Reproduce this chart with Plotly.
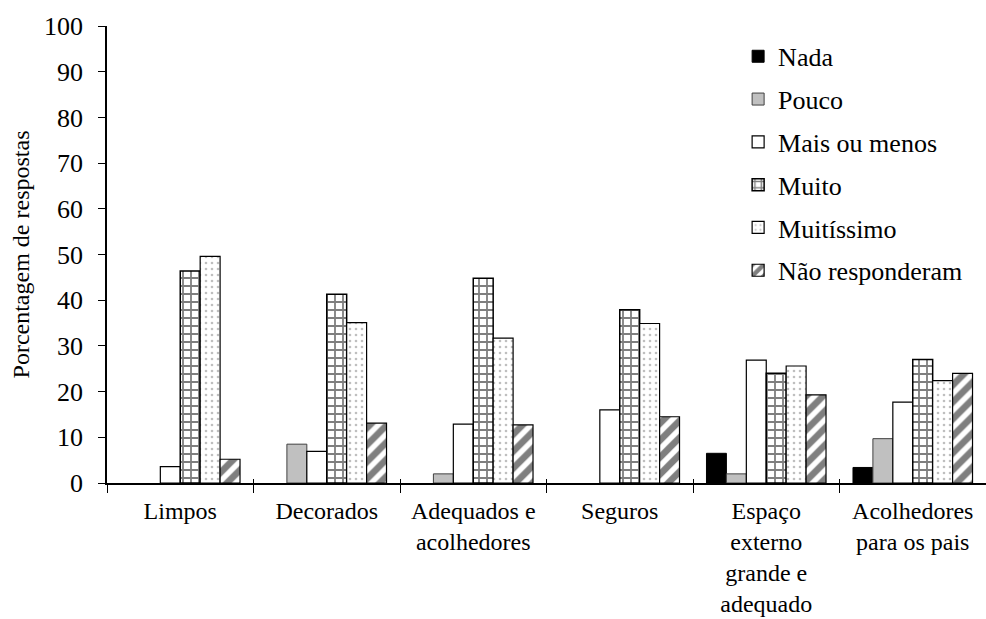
import plotly.graph_objects as go

# Categories (multi-line labels use <br>)
categories = [
    "Limpos",
    "Decorados",
    "Adequados e<br>acolhedores",
    "Seguros",
    "Espaço<br>externo<br>grande e<br>adequado",
    "Acolhedores<br>para os pais",
]

# Percentage of answers per response level
nada = [0, 0, 0, 0, 6.5, 3.4]
pouco = [0, 8.5, 2.0, 0, 2.0, 9.7]
mais_ou_menos = [3.6, 6.9, 12.9, 16.0, 26.9, 17.7]
muito = [46.4, 41.3, 44.8, 37.9, 24.0, 27.0]
muitissimo = [49.6, 35.1, 31.7, 34.9, 25.6, 22.4]
nao_responderam = [5.2, 13.1, 12.7, 14.5, 19.3, 24.0]

y_ticks = [0, 10, 20, 30, 40, 50, 60, 70, 80, 90, 100]

FONT = "Liberation Serif"

series = [
    ("Nada", nada, dict(color="black", line=dict(color="black", width=1))),
    ("Pouco", pouco, dict(color="#c0c0c0", line=dict(color="#404040", width=1))),
    ("Mais ou menos", mais_ou_menos, dict(color="white", line=dict(color="black", width=1.2))),
    ("Muito", muito, dict(color="white", line=dict(color="black", width=1.5),
                          pattern=dict(shape="+", fgcolor="black", bgcolor="white",
                                       size=8, solidity=0.4))),
    ("Muitíssimo", muitissimo, dict(color="white", line=dict(color="black", width=1.2),
                                    pattern=dict(shape=".", fgcolor="#808080", bgcolor="white",
                                                 size=6, solidity=0.15))),
    ("Não responderam", nao_responderam,
     dict(color="white", line=dict(color="black", width=1.2),
          pattern=dict(shape="/", fgcolor="black", bgcolor="white",
                       size=12, solidity=0.55))),
]

fig = go.Figure()
for i, (name, vals, marker) in enumerate(series):
    # empty answers are left out so nothing is drawn on the baseline
    fig.add_trace(go.Bar(x=categories, y=[v if v else None for v in vals],
                         name=name, marker=marker, legendgroup=f"g{i}"))

# Invisible helper trace so the overlaid axis (inside ticks) gets drawn
fig.add_trace(go.Scatter(x=categories, y=[None] * len(categories), xaxis="x2",
                         showlegend=False, hoverinfo="skip", mode="markers"))

fig.update_layout(
    width=986, height=619,
    margin=dict(l=107, r=0, t=26, b=136),
    paper_bgcolor="white", plot_bgcolor="white",
    barmode="group", bargap=0.184, bargroupgap=0,
    showlegend=True,
    legend=dict(x=0.718, y=0.985, xanchor="left", yanchor="top",
                font=dict(family=FONT, size=26, color="black"),
                bgcolor="rgba(0,0,0,0)", tracegroupgap=6, itemwidth=30),
    xaxis=dict(
        categoryorder="array", categoryarray=categories,
        range=[-0.5, 5.5],
        showline=True, linecolor="black", linewidth=1.5,
        ticks="outside", ticklen=8, tickwidth=1, tickcolor="black",
        tickson="boundaries", showgrid=False, zeroline=False,
        ticklabelstandoff=5,
        tickfont=dict(family=FONT, size=24, color="black"),
    ),
    xaxis2=dict(
        overlaying="x", matches="x", anchor="y",
        categoryorder="array", categoryarray=categories,
        showline=False, showticklabels=False,
        ticks="inside", ticklen=4, tickwidth=1, tickcolor="black",
        tickson="boundaries", showgrid=False, zeroline=False,
    ),
    yaxis=dict(
        range=[0, 100], tickvals=y_ticks,
        showline=True, linecolor="black", linewidth=1.5,
        ticks="outside", ticklen=7, tickwidth=1, tickcolor="black",
        showgrid=False, zeroline=False,
        ticklabelstandoff=10,
        tickfont=dict(family=FONT, size=26, color="black"),
        title=dict(text="Porcentagem de respostas", standoff=8,
                   font=dict(family=FONT, size=24, color="black")),
    ),
)

fig.write_html("out.html")
